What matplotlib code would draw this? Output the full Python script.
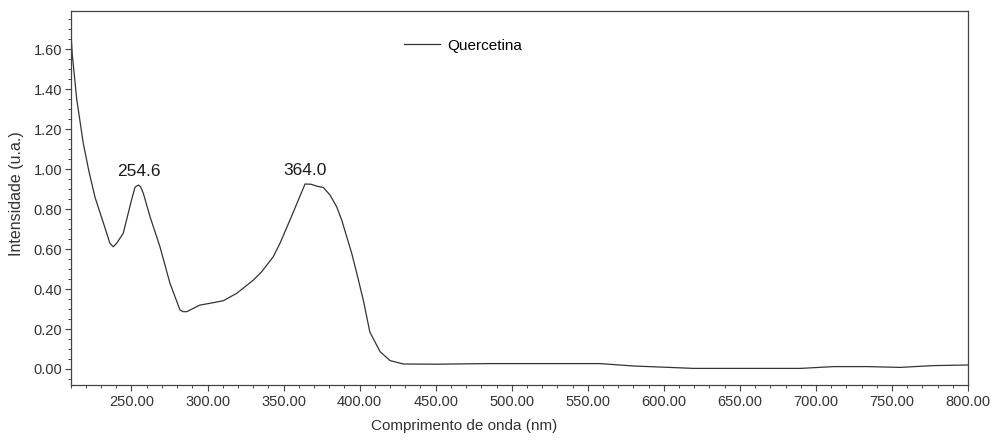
import matplotlib.pyplot as plt
from matplotlib.ticker import MultipleLocator, FormatStrFormatter

plt.rcParams['font.family'] = ['Liberation Sans Narrow', 'Liberation Sans', 'DejaVu Sans']

# spectrum
wavelength = [210, 211, 214, 218.3, 222, 226, 233.7, 235.8, 238, 240.2, 244.6, 250, 252.3,
              254.6, 256, 257.8, 262.2, 268.7, 275.3, 281.9, 284, 286.3, 295, 303.8, 310.4,
              319.2, 330.1, 335.6, 343.2, 347.6, 354.2, 359.7, 364.1, 368, 372, 376.1, 380.5,
              384.9, 388.2, 391.5, 394.8, 398.1, 402.4, 406.7, 413.4, 420, 428.7, 450,
              485, 520, 558, 580, 600, 619.5, 650, 690, 711.6, 733.5, 755.4, 777.3, 800]
intensity = [1.71, 1.58, 1.35, 1.13, 0.99, 0.86, 0.68, 0.629, 0.612, 0.629, 0.68, 0.846, 0.91,
             0.921, 0.912, 0.879, 0.762, 0.612, 0.429, 0.295, 0.287, 0.287, 0.32, 0.332, 0.342,
             0.379, 0.445, 0.487, 0.562, 0.629, 0.746, 0.846, 0.926, 0.925, 0.915, 0.909, 0.871,
             0.812, 0.746, 0.662, 0.579, 0.479, 0.345, 0.185, 0.087, 0.042, 0.025, 0.024,
             0.027, 0.027, 0.027, 0.015, 0.009, 0.003, 0.003, 0.003, 0.012, 0.012, 0.008, 0.017, 0.02]
peak_x = [254.6, 364.0]
peak_y = [0.987, 0.992]
peak_labels = ['254.6', '364.0']

fig = plt.figure(figsize=(9.98, 4.43), dpi=100)
ax = fig.add_axes([0.0708, 0.131, 0.8992, 0.844])

ax.plot(wavelength, intensity, color='#333333', lw=0.9, label='Quercetina')
for px, py, lab in zip(peak_x, peak_y, peak_labels):
    ax.text(px, py, lab, ha='center', va='center', fontsize=12.5, color='#1a1a1a')

ax.set_xlim(210, 800)
ax.set_ylim(-0.08, 1.792)
ax.xaxis.set_major_locator(MultipleLocator(50))
ax.xaxis.set_minor_locator(MultipleLocator(10))
ax.yaxis.set_major_locator(MultipleLocator(0.2))
ax.yaxis.set_minor_locator(MultipleLocator(0.05))
ax.xaxis.set_major_formatter(FormatStrFormatter('%.2f'))
ax.yaxis.set_major_formatter(FormatStrFormatter('%.2f'))
ax.set_xticks([t for t in range(250, 801, 50)])

ax.tick_params(which='major', direction='out', length=4.5, width=0.8, color='#444444',
               labelsize=10.5, labelcolor='#333333')
ax.tick_params(axis='y', which='major', pad=1.5)
ax.tick_params(axis='x', which='major', pad=3)
ax.tick_params(which='minor', direction='out', length=2.2, width=0.7, color='#444444')
for s in ax.spines.values():
    s.set_color('#444444')
    s.set_linewidth(0.9)

fig.text(17 / 998, 1 - 194 / 443, 'Intensidade (u.a.)', rotation=90, ha='center', va='center',
         fontsize=11.5, color='#333333')
fig.text(464 / 998, 1 - 426 / 443, 'Comprimento de onda (nm)', ha='center', va='center',
         fontsize=11, color='#333333')

ax.legend(loc='center left', bbox_to_anchor=(0.371, 0.907), frameon=False, fontsize=11,
          borderpad=0, borderaxespad=0, handlelength=2.4, handletextpad=0.45)

fig.savefig('out.png', dpi=100)
